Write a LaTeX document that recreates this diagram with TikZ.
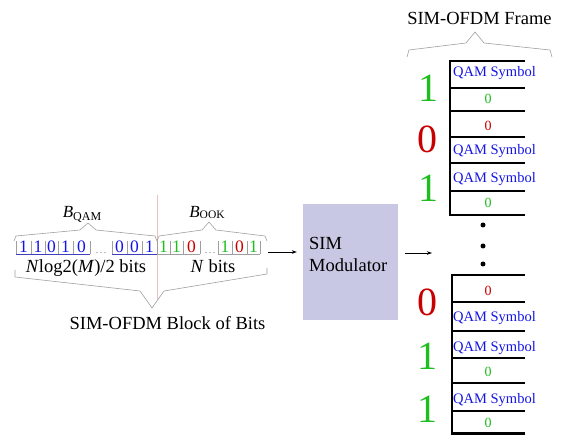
\documentclass[tikz,border=0pt]{standalone}
\usepackage{fontspec}
\setmainfont{Liberation Serif}
\usetikzlibrary{arrows.meta}
\definecolor{gr}{RGB}{30,190,30}
\definecolor{rd}{RGB}{200,0,0}
\definecolor{bl}{RGB}{20,20,230}
\definecolor{modc}{RGB}{200,200,228}
\begin{document}
\begin{tikzpicture}[x=1pt,y=-1pt,
  txt/.style={inner sep=0pt, font=\fontsize{18.5}{22}\selectfont},
  lbl/.style={inner sep=0pt, anchor=base, font=\fontsize{18.5}{22}\selectfont},
  bigd/.style={inner sep=0pt, font=\fontsize{40}{40}\selectfont},
  qam/.style={inner sep=0pt, anchor=base west, text=bl, font=\fontsize{14.5}{16}\selectfont},
  zr/.style={inner sep=0pt, font=\fontsize{14}{16}\selectfont},
  bitd/.style={inner sep=0pt, font=\fontsize{17.5}{18}\selectfont},
  framel/.style={line width=2.6pt},
  brc/.style={draw=gray!75, line width=0.6pt, line join=round},
  sepl/.style={draw=gray!75, line width=0.6pt},
  arr/.style={-{Stealth[length=5pt,width=3.5pt]}, line width=0.7pt}
]
\useasboundingbox (0,0) rectangle (570,435);

% ---------- left: block of bits ----------
\draw[rd!25, line width=0.5pt] (157,195) -- (157,300);

\node[inner sep=0pt, anchor=base] (bqam) at (82,218)
  {\fontsize{17}{17}\selectfont\textit{B}\raisebox{-3pt}{\fontsize{12}{12}\selectfont QAM}};
\node[inner sep=0pt, anchor=base] (book) at (207,218)
  {\fontsize{17}{17}\selectfont\textit{B}\raisebox{-0.5pt}{\fontsize{11.5}{12}\selectfont OOK}};

% braces above
\draw[brc] (14,241) -- (16,236) -- (80,230) -- (88,223) -- (96,230) -- (155,236) -- (157,241);
\draw[brc] (157,241) -- (159,236) -- (202,230) -- (209,222) -- (216,230) -- (265,236) -- (267,241);

% separators
\foreach \x in {16,31,45,58,73,90,112,127,142,157,170,183,200,218,232,247,260}
  \draw[sepl] (\x,241) -- (\x,254);
\draw[gray!40!bl, line width=0.7pt] (16,254) -- (90,254) (112,254) -- (157,254);
\draw[gray!75, line width=0.7pt] (157,254) -- (200,254) (218,254) -- (260,254);
\foreach \x in {97,101,105} \fill[gray] (\x,252.5) circle (0.6pt);
\foreach \x in {206,210,214} \fill[gray] (\x,252.5) circle (0.6pt);

% QAM bits
\foreach \x/\d [count=\i] in {23.5/1,38/1,51.5/0,65.5/1,81.5/0,119.5/0,134.5/0,149.5/1}
  \node[bitd, text=bl] (q\i) at (\x,247) {\d};
% OOK bits
\foreach \x/\d/\c [count=\i] in {163.5/1/gr,176.5/1/gr,191.5/0/rd,225/1/gr,239.5/0/rd,253.5/1/gr}
  \node[bitd, text=\c] (o\i) at (\x,247) {\d};

\node[lbl] (nlog) at (86,273) {\textit{N}log2(\textit{M})/2 bits};
\node[lbl] (nbits) at (213,273) {\textit{N} bits};

% brace below
\draw[brc] (15,270) -- (15,277) -- (140,291) -- (152,308) -- (164,291) -- (267,274) -- (267,268);
\node[txt, anchor=base] (blk) at (167.5,330) {SIM-OFDM Block of Bits};

% ---------- modulator ----------
\node[fill=modc, minimum width=95pt, minimum height=116pt, inner sep=0pt] (mod) at (350.5,262) {};
\node[txt, anchor=west, align=left] (modt) at (309,254) {SIM\\Modulator};
\coordinate (bitsend) at (268,252);
\draw[arr, shorten >=6pt] (bitsend) -- (bitsend -| mod.west);
\coordinate (framein) at (432,253);
\draw[arr, shorten <=7pt] (framein -| mod.east) -- (framein);

% ---------- frame ----------
\node[txt, anchor=base] (ftitle) at (479.5,25) {SIM-OFDM Frame};
\draw[brc] (407,57) -- (409,50) -- (466,43) -- (475,32) -- (484,43) -- (550,50) -- (552,57);

\foreach \y in {61,88,111,137,163,191,215} \draw[framel] (449,\y) -- (525,\y);
\draw[framel] (450,60) -- (450,216);
\foreach \y in {275,302,331,358,383,411,433.5} \draw[framel] (451,\y) -- (525,\y);
\draw[framel] (452,274) -- (452,435);

\node[qam] (s1) at (453,77) {QAM Symbol};
\node[zr, text=gr] (z1) at (488,99) {0};
\node[zr, text=rd] (z2) at (488,126) {0};
\node[qam] (s2) at (453,155) {QAM Symbol};
\node[qam] (s3) at (453,183) {QAM Symbol};
\node[zr, text=gr] (z3) at (488,203) {0};

\node[zr, text=rd] (z4) at (488,291) {0};
\node[qam] (s4) at (453,322) {QAM Symbol};
\node[qam] (s5) at (453,352) {QAM Symbol};
\node[zr, text=gr] (z5) at (488,372) {0};
\node[qam] (s6) at (453,403) {QAM Symbol};
\node[zr, text=gr] (z6) at (488,423) {0};

\node[bigd, text=gr] (b1) at (428,88) {1};
\node[bigd, text=rd] (b2) at (427,139) {0};
\node[bigd, text=gr] (b3) at (428,188) {1};
\node[bigd, text=rd] (b4) at (427,302) {0};
\node[bigd, text=gr] (b5) at (427,356) {1};
\node[bigd, text=gr] (b6) at (427,409) {1};

\foreach \y in {225,246,264} \fill (483,\y) circle (2.5pt);
\end{tikzpicture}
\end{document}
